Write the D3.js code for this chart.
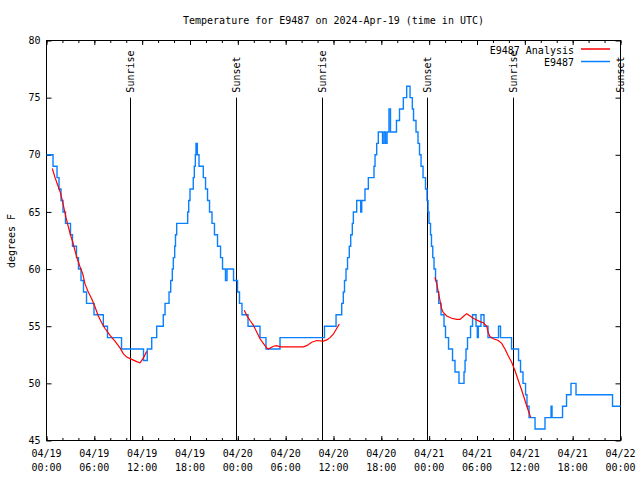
<!DOCTYPE html>
<html lang="en">
<head>
<meta charset="utf-8" />
<title>Temperature for E9487</title>
<style>
  html, body { margin: 0; background: #fff; }
  svg { display: block; background: #fff; }
  text { font-family: "DejaVu Sans Mono", monospace; font-size: 10px; fill: #000; }
</style>
<script src="https://cdn.jsdelivr.net/npm/d3@7"></script>
</head>
<body>
<script>
// all times are hours after 2024-04-19 00:00 UTC
const T0 = Date.UTC(2024, 3, 19);
const hr = h => new Date(T0 + h * 3600e3);

// observed temperature (deg F), one entry each time the reading changes
const obs = [
  [0,70],[0.82,69],[1.32,68],[1.57,67],[1.82,66],[2.07,65],[2.38,64],[3.01,63],[3.26,62],
  [3.76,61],[4.01,60],[4.33,59],[4.64,58],[5.02,57],[5.96,56],[7.13,55],[7.65,54],[9.41,53],
  [12.17,52],[12.64,53],[13.2,54],[13.82,55],[14.65,56],[14.87,57],[15.37,58],[15.58,59],
  [15.78,60],[15.91,61],[16.08,62],[16.18,63],[16.33,64],[17.71,65],[17.84,66],[18.0,67],
  [18.41,68],[18.54,69],[18.67,70],[18.75,71],[18.92,70],[19.13,69],[19.67,68],[19.95,67],
  [20.2,66],[20.45,65],[20.76,64],[21.07,63],[21.45,62],[21.83,61],[22.08,60],[22.45,59],
  [22.64,60],[23.46,59],[23.96,58],[24.21,57],[24.52,56],[25.28,55],[26.78,54],[27.53,53],
  [29.29,54],[34.87,55],[36.32,56],[37.03,57],[37.23,58],[37.38,59],[37.57,60],[37.76,61],
  [37.98,62],[38.16,63],[38.36,64],[38.49,65],[38.91,66],[39.41,65],[39.54,66],[39.95,67],
  [40.37,68],[41.08,69],[41.21,70],[41.42,71],[41.62,72],[42.15,71],[42.34,72],[42.53,71],
  [42.72,72],[42.96,74],[43.15,72],[43.9,73],[44.28,74],[44.76,75],
  [45.18,76],[45.6,75],[45.89,74],[46.04,73],[46.35,72],[46.6,71],[46.79,70],[46.98,69],
  [47.23,68],[47.54,67],[47.73,66],[47.86,65],[47.98,64],[48.17,63],[48.29,62],[48.45,61],
  [48.61,60],[48.8,59],[48.98,58],[49.2,57],[49.49,56],[49.86,55],[50.05,54],[50.43,53],
  [50.93,52],[51.24,51],[51.74,50],[52.37,51],[52.5,52],[52.62,53],[52.81,54],[53.19,55],
  [53.44,56],[53.88,55],[54.04,54],[54.17,55],[54.5,56],[54.88,55],[55.38,54],[56.7,55],
  [56.95,54],[58.33,53],[59.21,52],[59.46,51],[59.77,50],[60.09,49],[60.27,48],[60.53,47],
  [61.28,46],[62.53,47],[63.29,48],[63.41,47],[64.73,48],[65.23,49],[65.79,50],[66.42,49],
  [71.0,48],[72,48]
];

// analysis runs, 12 h after each sunset
const analysis1 = [
  [0.73,68.8],[1.07,68.0],[1.48,67.2],[1.78,66.6],[2.11,65.6],[2.45,64.5],[2.74,63.7],
  [3.04,62.9],[3.32,62.3],[3.58,61.6],[3.86,60.9],[4.2,60.2],[4.54,59.6],[4.83,58.7],
  [5.24,58.0],[5.67,57.4],[6.08,56.7],[6.5,55.9],[6.92,55.3],[7.34,54.8],[7.97,54.2],
  [8.59,53.7],[9.22,53.1],[9.63,52.6],[10.06,52.3],[10.69,52.1],[11.32,51.9],[11.73,51.8],
  [12.14,52.2],[12.57,52.8]
];
const analysis2 = [
  [24.81,56.4],[25.15,55.9],[25.53,55.5],[25.94,55.1],[26.37,54.5],[26.78,53.9],[27.2,53.5],
  [27.62,53.1],[27.82,53.0],[28.45,53.25],[28.88,53.3],[29.29,53.2],[30.54,53.2],[32.21,53.2],
  [32.64,53.3],[33.27,53.6],[33.89,53.75],[34.72,53.7],[35.15,53.8],[35.56,54.0],[35.98,54.3],
  [36.4,54.8],[36.73,55.2]
];
const analysis3 = [
  [48.73,59.3],[48.95,58.7],[49.15,58.0],[49.36,57.25],[49.57,56.5],[49.77,56.2],[50.2,55.9],
  [50.83,55.7],[51.46,55.6],[51.87,55.6],[52.28,55.85],[52.71,56.1],[53.12,55.9],[53.54,55.7],
  [53.96,55.55],[54.38,55.4],[54.79,55.3],[55.22,55.0],[55.42,54.4],[55.63,54.1],[56.05,53.9],
  [56.67,53.75],[57.1,53.5],[57.51,53.0],[57.93,52.4],[58.35,51.85],[58.77,51.1],[59.18,50.25],
  [59.61,49.4],[60.02,48.5],[60.44,47.6],[60.74,47.0]
];

const sunEvents = [
  ["Sunrise", 10.51], ["Sunset", 23.83], ["Sunrise", 34.6],
  ["Sunset", 47.77], ["Sunrise", 58.56], ["Sunset", 71.88]
];
const yTicks = [45, 50, 55, 60, 65, 70, 75, 80];
const title = "Temperature for E9487 on 2024-Apr-19 (time in UTC)";

const svg = d3.select("body").append("svg")
  .attr("width", 640).attr("height", 480);

const x = d3.scaleUtc().domain([hr(0), hr(72)]).range([46.5, 620.5]);
const y = d3.scaleLinear().domain([45, 80]).range([440.5, 40.5]);

const majorX = d3.utcHour.every(6).range(hr(0), hr(72.01));
const minorX = d3.utcHour.every(2).range(hr(0), hr(72.01));

function clean(g) {
  g.select(".domain").remove();
  g.selectAll(".tick line").attr("stroke", "#000");
}

// inward tick marks on all four sides
svg.append("g").attr("transform", "translate(0,440.5)")
  .call(d3.axisBottom(x).tickValues(minorX).tickSize(-2.5).tickFormat("")).call(clean);
svg.append("g").attr("transform", "translate(0,440.5)")
  .call(d3.axisBottom(x).tickValues(majorX).tickSize(-4.5).tickFormat("")).call(clean);
svg.append("g").attr("transform", "translate(0,40.5)")
  .call(d3.axisTop(x).tickValues(minorX).tickSize(-2.5).tickFormat("")).call(clean);
svg.append("g").attr("transform", "translate(0,40.5)")
  .call(d3.axisTop(x).tickValues(majorX).tickSize(-4.5).tickFormat("")).call(clean);
svg.append("g").attr("transform", "translate(46.5,0)")
  .call(d3.axisLeft(y).tickValues(yTicks).tickSize(-5).tickPadding(6).tickFormat(d3.format("d")))
  .call(clean)
  .call(g => g.attr("font-family", null).attr("font-size", null));
svg.append("g").attr("transform", "translate(620.5,0)")
  .call(d3.axisRight(y).tickValues(yTicks).tickSize(-5).tickFormat("")).call(clean);

// two-line time labels
const fmtDay = d3.utcFormat("%m/%d"), fmtHour = d3.utcFormat("%H:%M");
const xl = svg.append("g").selectAll("text").data(majorX).join("text")
  .attr("text-anchor", "middle")
  .attr("transform", d => `translate(${x(d)},0)`);
xl.append("tspan").attr("x", 0).attr("y", 457).text(fmtDay);
xl.append("tspan").attr("x", 0).attr("y", 471).text(fmtHour);

// frame
svg.append("rect")
  .attr("x", 46.5).attr("y", 40.5).attr("width", 574).attr("height", 400)
  .attr("fill", "none").attr("stroke", "#000");

// sunrise / sunset markers
const sun = svg.append("g").selectAll("g").data(sunEvents).join("g")
  .attr("transform", d => `translate(${Math.round(x(hr(d[1]))) + 0.5},0)`);
sun.append("line")
  .attr("y1", y(75)).attr("y2", y(45))
  .attr("stroke", "#000");
sun.append("text")
  .attr("transform", `translate(0,${y(75) - 5}) rotate(-90)`)
  .attr("text-anchor", "start")
  .attr("dy", "0.35em")
  .text(d => d[0]);

// series
const line = d3.line().x(d => x(hr(d[0]))).y(d => y(d[1]));
svg.append("path").datum(obs)
  .attr("d", line.curve(d3.curveStepAfter))
  .attr("fill", "none").attr("stroke", "#0a80ff").attr("stroke-width", 1.4);

const smooth = d3.line().x(d => x(hr(d[0]))).y(d => y(d[1]));
svg.append("g").selectAll("path").data([analysis1, analysis2, analysis3]).join("path")
  .attr("d", smooth)
  .attr("fill", "none").attr("stroke", "#ff0000").attr("stroke-width", 1.2);

// title and axis label
svg.append("text").attr("x", 333.5).attr("y", 24)
  .attr("text-anchor", "middle").text(title);
svg.append("text")
  .attr("transform", "translate(11,241) rotate(-90)")
  .attr("text-anchor", "middle").attr("dy", "0.35em")
  .text("degrees F");

// legend
const legend = [["E9487 Analysis", "#ff0000"], ["E9487", "#0a80ff"]];
const lg = svg.append("g").selectAll("g").data(legend).join("g")
  .attr("transform", (d, i) => `translate(0,${50 + i * 12.5})`);
lg.append("text").attr("x", 574).attr("dy", "0.35em")
  .attr("text-anchor", "end").text(d => d[0]);
lg.append("line").attr("x1", 581).attr("x2", 610).attr("y1", -1).attr("y2", -1)
  .attr("stroke", d => d[1]).attr("stroke-width", 1.5);
</script>
</body>
</html>
